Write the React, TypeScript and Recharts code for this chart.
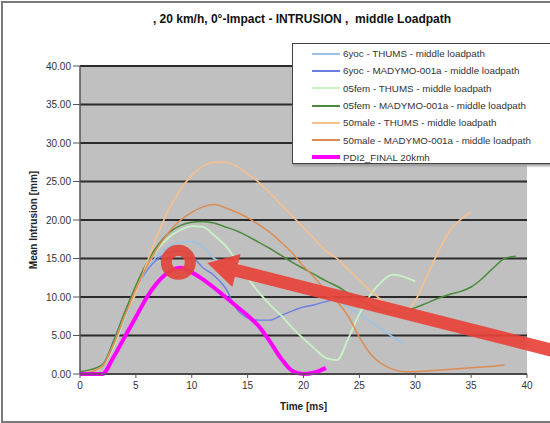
import {
  CartesianGrid,
  Label,
  Line,
  LineChart,
  ReferenceDot,
  ReferenceLine,
  XAxis,
  YAxis,
} from 'recharts';

// time axis [ms]
const time = [
  0, 1, 2, 3, 4, 5, 6, 7, 8, 9, 10, 11, 12, 13, 14, 15, 16, 17, 18, 19, 20,
  21, 22, 23, 24, 25, 26, 27, 28, 29, 30, 31, 32, 33, 34, 35, 36, 37, 38, 39, 40,
];

// mean intrusion [mm]
const yoc6Thums = [
  0, 0.3, 0.8, 3.5, 7, 10.5, 13.5, 15.5, 16.6, 17.1, 17.2, 16.5, 15, 14.3, 13.6,
  13, 12.6, 12.2, 11.8, 11.4, 11, 10.6, 10.2, 9.6, 8.7, 7.8, 6.8, 5.8, 4.8, 4,
];
const yoc6Madymo = [
  0, 0.3, 1, 4.3, 8, 11.2, 13.5, 15, 15.8, 16, 15.3, 13.8, 12.8, 11.2, 8.5, 7.3,
  7, 7, 7.6, 8.2, 8.7, 9, 9.4, 9.7, 10,
];
const fem05Thums = [
  0, 0.3, 1, 3.5, 7.3, 11, 14, 16.3, 17.8, 18.7, 19.2, 19.1, 18, 16.7, 14.7, 12.5,
  10.6, 9, 7.6, 6, 4.6, 3.3, 2.1, 1.8, 4.6, 7.8, 10.3, 12, 12.9, 12.6, 12,
];
const fem05Madymo = [
  0.3, 0.6, 1.2, 4.2, 8, 11.5, 14.5, 16.8, 18.4, 19.3, 19.7, 19.8, 19.6, 19.1,
  18.6, 17.9, 17.1, 16.3, 15.4, 14.5, 13.7, 12.9, 12.1, 11.4, 10.5, 9.6, 8.8, 8.3,
  8, 8.2, 8.6, 9.2, 9.8, 10.3, 10.7, 11.3, 12.4, 13.8, 15, 15.3,
];
const male50Thums = [
  0, 0.3, 1, 3.8, 7.5, 10.5, 14.5, 18.3, 21.5, 24, 25.8, 27, 27.5, 27.5, 27, 26,
  24.9, 23.5, 22, 20.5, 19, 17.5, 16, 15, 13.6, 12.2, 10.8, 9.6, 8.6, 8.1, 9.5,
  12.6, 15.7, 18.4, 20, 21,
];
const male50Madymo = [
  0, 0.3, 1, 3.8, 7.5, 11, 14, 16.5, 18.5, 20, 21, 21.7, 22, 21.6, 21, 20.3, 19.4,
  18.4, 17.1, 15.7, 14, 12.5, 10.8, 9.4, 7.5, 4.8, 2.6, 1.3, 0.6, 0.3, 0.3, 0.4,
  0.5, 0.6, 0.7, 0.8, 0.9, 1, 1.2,
];
const pdi2Final = [
  0, 0, 0, 2.2, 4.8, 7.4, 10, 12, 13.3, 13.8, 13.2, 12.3, 11.2, 10, 8.8, 7.6, 6.2,
  4.2, 2, 0.4, 0, 0.2, 0.8,
];

const xTicks = [0, 5, 10, 15, 20, 25, 30, 35, 40];
const yTicks = [0, 5, 10, 15, 20, 25, 30, 35, 40];

// annotation: ring around the peak and arrow pointing at it
const ringPoint = { x: 8.8, y: 14.5 };
const arrowTail = { x: 43, y: 2.8 };
const arrowTip = { x: 11.4, y: 14.4 };

const series = [
  { key: 'yoc6Thums', name: '6yoc - THUMS - middle loadpath', color: '#9cc3e5', width: 1.6, values: yoc6Thums },
  { key: 'yoc6Madymo', name: '6yoc - MADYMO-001a - middle loadpath', color: '#6b7fe3', width: 1.4, values: yoc6Madymo },
  { key: 'fem05Thums', name: '05fem - THUMS - middle loadpath', color: '#c9f2c6', width: 1.8, values: fem05Thums },
  { key: 'fem05Madymo', name: '05fem - MADYMO-001a - middle loadpath', color: '#4a8a3c', width: 1.5, values: fem05Madymo },
  { key: 'male50Thums', name: '50male - THUMS - middle loadpath', color: '#f8c08e', width: 1.6, values: male50Thums },
  { key: 'male50Madymo', name: '50male - MADYMO-001a - middle loadpath', color: '#dc8c52', width: 1.5, values: male50Madymo },
  { key: 'pdi2Final', name: 'PDI2_FINAL 20kmh', color: '#ff00ff', width: 4, values: pdi2Final },
];

const data = time.map((t, i) => {
  const row: Record<string, number | null> = { t };
  series.forEach((s) => {
    row[s.key] = i < s.values.length ? s.values[i] : null;
  });
  return row;
});

const FONT = '"Liberation Sans", Arial, sans-serif';

function Arrow(props: any) {
  const { x1, y1, x2, y2 } = props;
  if (x1 == null || x2 == null) return null;
  const dx = x2 - x1;
  const dy = y2 - y1;
  const len = Math.hypot(dx, dy);
  const ux = dx / len;
  const uy = dy / len;
  const px = -uy;
  const py = ux;
  const head = 30;
  const hw = 17;
  const sw = 6.5;
  const bx = x2 - ux * head;
  const by = y2 - uy * head;
  const pts = [
    [x1 + px * sw, y1 + py * sw],
    [bx + px * sw, by + py * sw],
    [bx + px * hw, by + py * hw],
    [x2, y2],
    [bx - px * hw, by - py * hw],
    [bx - px * sw, by - py * sw],
    [x1 - px * sw, y1 - py * sw],
  ];
  return (
    <polygon
      points={pts.map((p) => p.join(',')).join(' ')}
      fill="#e8433a"
      fillOpacity={0.92}
    />
  );
}

function LegendBox() {
  return (
    <div
      style={{
        position: 'absolute',
        left: 292,
        top: 43,
        width: 262,
        height: 121,
        boxSizing: 'border-box',
        border: '1px solid #444',
        background: '#fff',
        boxShadow: '1px 2px 2px #999',
        paddingTop: 1,
        fontFamily: FONT,
      }}
    >
      {series.map((s) => (
        <div
          key={s.key}
          style={{ height: 17.3, display: 'flex', alignItems: 'center', fontSize: 9.8, color: '#333' }}
        >
          <div style={{ width: 28, height: Math.max(2, s.width), background: s.color, marginLeft: 19, marginRight: 3 }} />
          <span style={{ whiteSpace: 'nowrap' }}>{s.name}</span>
        </div>
      ))}
    </div>
  );
}

export default function App() {
  return (
    <div
      style={{
        position: 'absolute',
        left: 0,
        top: 0,
        width: 550,
        height: 423,
        overflow: 'hidden',
        background: '#fff',
        fontFamily: FONT,
      }}
    >
      <div
        style={{
          position: 'absolute',
          left: 1,
          top: 1,
          width: 580,
          height: 418,
          border: '2px solid #7a7a7a',
        }}
      />
      <div
        style={{
          position: 'absolute',
          left: 0,
          width: 604,
          top: 12,
          textAlign: 'center',
          fontWeight: 'bold',
          fontSize: 12,
          color: '#111',
          whiteSpace: 'pre',
        }}
      >
        {', 20 km/h, 0°-Impact - INTRUSION ,  middle Loadpath'}
      </div>
      <div style={{ position: 'absolute', left: 0, top: 0 }}>
        <LineChart
          width={550}
          height={423}
          data={data}
          margin={{ top: 66, right: 23, bottom: 19, left: 10 }}
        >
          <CartesianGrid
            vertical={false}
            fill="#c0c0c0"
            stroke="#2b2b2b"
            strokeWidth={2}
          />
          <XAxis
            dataKey="t"
            type="number"
            domain={[0, 40]}
            ticks={xTicks}
            height={30}
            tickSize={4}
            tickMargin={4}
            tick={{ fontSize: 10, fill: '#333' }}
            stroke="#555"
            tickLine={{ stroke: '#555' }}
            axisLine={{ stroke: '#555', strokeWidth: 1.5 }}
          >
            <Label value="Time [ms]" position="insideBottom" offset={-6} style={{ fontSize: 10, fontWeight: 'bold', fill: '#222' }} />
          </XAxis>
          <YAxis
            type="number"
            domain={[0, 40]}
            ticks={yTicks}
            width={70}
            tickSize={7}
            tickFormatter={(v: number) => v.toFixed(2)}
            tick={{ fontSize: 10, fill: '#333' }}
            stroke="#555"
            axisLine={{ stroke: '#555', strokeWidth: 1.5 }}
          >
            <Label value="Mean Intrusion [mm]" angle={-90} position="insideLeft" offset={23} style={{ fontSize: 10, fontWeight: 'bold', fill: '#222', textAnchor: 'middle' }} />
          </YAxis>
          {series.map((s) => (
            <Line
              key={s.key}
              dataKey={s.key}
              name={s.name}
              type="monotone"
              stroke={s.color}
              strokeWidth={s.width}
              dot={false}
              activeDot={false}
              isAnimationActive={false}
            />
          ))}
          <ReferenceDot
            x={ringPoint.x}
            y={ringPoint.y}
            r={12}
            fill="none"
            stroke="#e2453b"
            strokeWidth={11}
            strokeOpacity={0.92}
          />
          <ReferenceLine
            segment={[arrowTail, arrowTip]}
            ifOverflow="visible"
            shape={Arrow}
          />
        </LineChart>
      </div>
      <LegendBox />
    </div>
  );
}
